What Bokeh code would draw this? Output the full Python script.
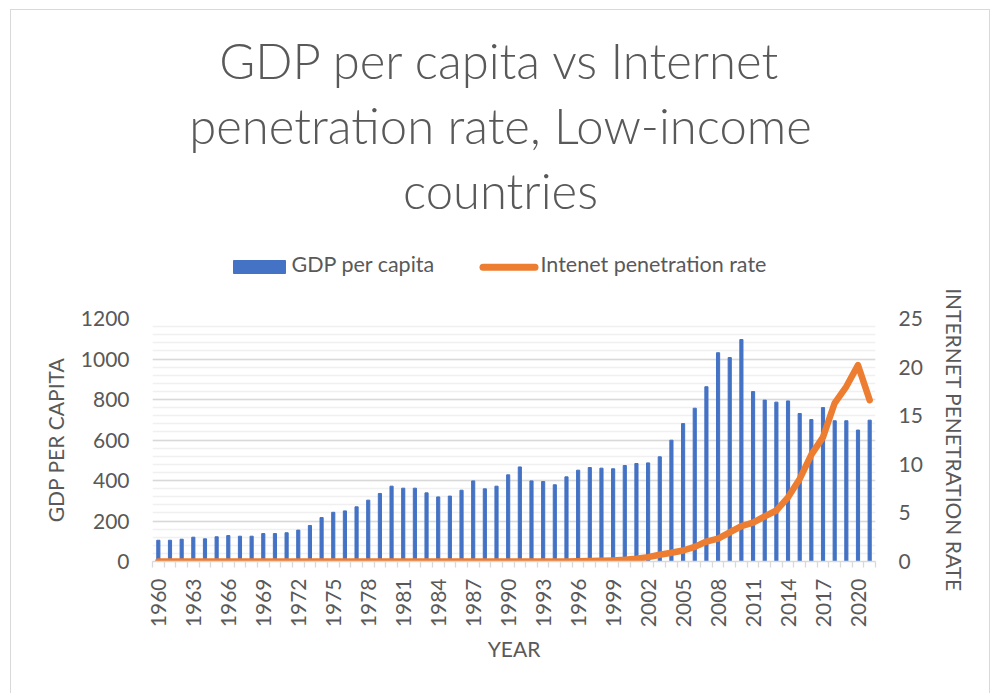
from math import pi

from bokeh.embed import file_html
from bokeh.layouts import column
from bokeh.models import FixedTicker, Label, LinearAxis, Range1d
from bokeh.plotting import figure
from bokeh.resources import INLINE

# ---- data -------------------------------------------------------------
years = list(range(1960, 2022))

gdp_per_capita = [
    105, 105, 110, 120, 112, 122, 128, 125, 125, 138,
    138, 142, 155, 178, 217, 243, 250, 270, 303, 336,
    372, 362, 362, 339, 319, 323, 352, 398, 359, 372,
    428, 467, 398, 395, 379, 418, 451, 464, 461, 458,
    474, 484, 487, 517, 599, 681, 757, 863, 1031, 1007,
    1096, 839, 797, 787, 793, 731, 701, 760, 695, 695, 649, 698,
]

internet_rate = [
    0, 0, 0, 0, 0, 0, 0, 0, 0, 0,
    0, 0, 0, 0, 0, 0, 0, 0, 0, 0,
    0, 0, 0, 0, 0, 0, 0, 0, 0, 0,
    0, 0, 0, 0, 0.002, 0.01, 0.02, 0.04, 0.07, 0.11,
    0.17, 0.28, 0.45, 0.7, 0.9, 1.13, 1.5, 2.05, 2.35, 3.0,
    3.65, 4.0, 4.65, 5.25, 6.6, 8.5, 11.0, 12.8, 16.3, 18.0, 20.2, 16.6,
]

year_tick_labels = list(range(1960, 2021, 3))
gdp_ticks = [0, 200, 400, 600, 800, 1000, 1200]
rate_ticks = [0, 5, 10, 15, 20, 25]

title_lines = ["GDP per capita vs Internet",
               "penetration rate, Low-income",
               "countries"]
series_names = ["GDP per capita", "Intenet penetration rate"]

# ---- styling ----------------------------------------------------------
BLUE = "#4472C4"
ORANGE = "#ED7D31"
TEXT = "#595959"
EDGE = "#d9d9d9"
FONT = "Lato"
W = 993
FRAME_L, FRAME_R, FRAME_T = 152, 875, 318
HEAD_H = 287          # header strip holding the title and the legend
MAIN_H = 693 - HEAD_H
TITLE_PX = 49
LEGEND_PX = 21.5

# ---- header: title and legend -----------------------------------------
# the header's plot area lines up with the chart's plot area below, so its
# x coordinates are page pixels; y is measured downward from the top
head = figure(width=W, height=HEAD_H, output_backend="svg",
              toolbar_location=None, x_range=Range1d(FRAME_L, FRAME_R),
              y_range=Range1d(HEAD_H, 0), min_border=0)
head.axis.visible = False
head.grid.visible = False
head.outline_line_color = None
head.border_fill_alpha = 0
head.background_fill_alpha = 0


def baseline(y, size):
    # Label places alphabetic text a little low; lift it onto the baseline
    return y - 0.41 * size


for text, base in zip(title_lines, [80, 145, 210]):
    head.add_layout(Label(x=500, y=baseline(base, TITLE_PX), text=text,
                          text_align="center", text_baseline="alphabetic",
                          text_font="Lato Light, Lato",
                          text_font_size=f"{TITLE_PX}px", text_color=TEXT))

# legend swatches and entries
head.quad(left=233, right=285, top=260, bottom=273, color=BLUE)
head.line(x=[482.5, 534.5], y=[266.7, 266.7], color=ORANGE, line_width=7,
          line_cap="round")
for text, x0 in zip(series_names, [291, 540]):
    head.add_layout(Label(x=x0, y=baseline(272, LEGEND_PX), text=text,
                          text_align="left", text_baseline="alphabetic",
                          text_font=FONT, text_font_size=f"{LEGEND_PX}px",
                          text_color=TEXT))

# ---- main chart --------------------------------------------------------
p = figure(width=W, height=MAIN_H, output_backend="svg",
           toolbar_location=None,
           x_range=Range1d(1959.5, 2021.5), y_range=Range1d(0, 1200),
           min_border_left=FRAME_L, min_border_right=W - FRAME_R,
           min_border_top=FRAME_T - HEAD_H, min_border_bottom=132)
p.outline_line_color = None
p.background_fill_color = "white"
p.border_fill_alpha = 0
p.extra_y_ranges = {"rate": Range1d(0, 25)}

# gridlines
p.xgrid.visible = False
p.ygrid.ticker = FixedTicker(ticks=gdp_ticks,
                             minor_ticks=list(range(0, 1201, 40)))
p.ygrid.grid_line_color = EDGE
p.ygrid.grid_line_width = 1.3
p.ygrid.minor_grid_line_color = "#f0f0f0"
p.ygrid.minor_grid_line_width = 1.3

# bars and line
p.vbar(x=years, top=gdp_per_capita, width=0.27, color=BLUE)
p.line(x=years, y=internet_rate, y_range_name="rate", color=ORANGE,
       line_width=6.5, line_cap="round", line_join="round")


def style_labels(axis):
    axis.major_label_text_font = FONT
    axis.major_label_text_font_size = "21px"
    axis.major_label_text_color = TEXT
    axis.axis_label_text_font = FONT
    axis.axis_label_text_font_size = "21px"
    axis.axis_label_text_font_style = "normal"
    axis.axis_label_text_color = TEXT


# bottom axis
xa = p.xaxis[0]
xa.ticker = FixedTicker(ticks=year_tick_labels,
                        minor_ticks=[y - 0.5 for y in range(1960, 2023)])
xa.axis_line_color = EDGE
xa.axis_line_width = 1.3
xa.major_tick_line_color = None
xa.major_tick_out = 0
xa.major_tick_in = 0
xa.minor_tick_line_color = EDGE
xa.minor_tick_line_width = 1.3
xa.minor_tick_out = 6
xa.minor_tick_in = 0
xa.major_label_orientation = pi / 2
xa.major_label_standoff = 11
xa.axis_label = "YEAR"
xa.axis_label_standoff = 6
style_labels(xa)

# left axis
ya = p.yaxis[0]
ya.ticker = FixedTicker(ticks=gdp_ticks)
ya.axis_line_color = None
ya.major_tick_line_color = None
ya.minor_tick_line_color = None
ya.major_tick_out = 0
ya.major_label_standoff = 23
ya.axis_label = "GDP PER CAPITA"
ya.axis_label_standoff = 10
style_labels(ya)

# right axis, title centred along the plot height
ra = LinearAxis(y_range_name="rate", ticker=FixedTicker(ticks=rate_ticks))
ra.axis_line_color = None
ra.major_tick_line_color = None
ra.minor_tick_line_color = None
ra.major_tick_out = 0
ra.major_label_standoff = 23
ra.axis_label = "INTERNET PENETRATION RATE"
ra.axis_label_standoff = 16
style_labels(ra)
p.add_layout(ra, "right")

# thin chart-area border drawn behind both panels
rule = f"linear-gradient({EDGE}, {EDGE})"
layout = column(head, p, spacing=0, styles={
    "background-color": "white",
    "background-image": ", ".join([rule] * 3),
    "background-size": "1px 100%, 1px 100%, 980px 1px",
    "background-position": "10px 9px, 989px 9px, 10px 9px",
    "background-repeat": "no-repeat",
})
open("out.html", "w").write(file_html(layout, INLINE))
